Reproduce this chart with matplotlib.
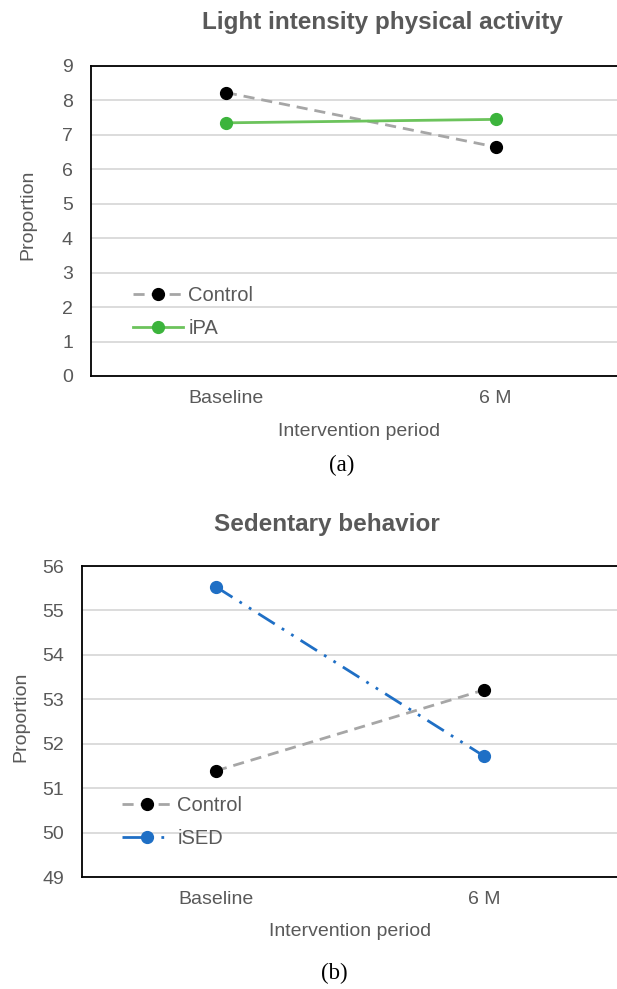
import numpy as np
import matplotlib
matplotlib.use('Agg')
import matplotlib.pyplot as plt

plt.rcParams['font.family'] = ['Liberation Sans', 'DejaVu Sans']

periods = ['Baseline', '6 M']

# (a) light intensity physical activity
lpa_control = [8.23, 6.65]
lpa_ipa = [7.35, 7.45]
lpa_ticks = list(range(0, 10))

# (b) sedentary behaviour
sed_control = [51.39, 53.21]
sed_ised = [55.53, 51.72]
sed_ticks = list(range(49, 57))

W, H = 617, 989
fig = plt.figure(figsize=(W / 100, H / 100), dpi=100)
txt = '#595959'
fs = 14

def px(x, y):
    return x / W, 1 - y / H

def style(ax, ticks, xr):
    ax.set_xlim(-0.5, xr)
    ax.set_ylim(ticks[0], ticks[-1])
    ax.set_yticks(ticks)
    ax.set_xticks(range(len(periods)))
    ax.set_xticklabels(periods)
    ax.grid(axis='y', color='#d9d9d9', lw=1.3)
    ax.set_axisbelow(True)
    for s in ['left', 'top', 'bottom']:
        ax.spines[s].set_linewidth(1.3)
        ax.spines[s].set_color('black')
    ax.spines['right'].set_visible(False)
    ax.tick_params(axis='y', length=0, pad=13, labelsize=fs, labelcolor=txt)
    ax.tick_params(axis='x', length=0, pad=10, labelsize=fs, labelcolor=txt)

x = np.arange(len(periods))

# ---- panel (a)
ax1 = fig.add_axes([91 / W, 1 - 376 / H, 1 - 91 / W, 310 / H])
ax1.plot(x, lpa_control, ls=(0, (4, 2.5)), color='#a6a6a6', lw=2, marker='o',
         ms=8.5, mfc='black', mec='black', label='Control')
ax1.plot(x, lpa_ipa, ls='-', color='#6cc35c', lw=2, marker='o',
         ms=8.5, mfc='#3cb43c', mec='#3cb43c', label='iPA')
style(ax1, lpa_ticks, 1.45)
ax1.set_xlabel('Intervention period', fontsize=fs, color=txt)
ax1.xaxis.label.set_va('center')
ax1.xaxis.set_label_coords((359 - 91) / 526, (376 - 432) / 310)
ax1.set_ylabel('Proportion', fontsize=fs, color=txt)
ax1.yaxis.label.set_va('center')
ax1.yaxis.set_label_coords((28 - 91) / 526, (376 - 215) / 310)
ax1.legend(loc='center left', bbox_to_anchor=((133 - 91) / 526, (376 - 312) / 310),
           frameon=False, fontsize=14.5, handlelength=2.5, handletextpad=0.25,
           labelspacing=0.72, borderpad=0, borderaxespad=0, labelcolor=txt)
fig.text(*px(382, 22), 'Light intensity physical activity', ha='center', va='center',
         fontsize=17.5, fontweight='bold', color=txt)
fig.text(*px(342, 465), '(a)', ha='center', va='center', fontsize=16.5,
         family='Liberation Serif', color='black')

# ---- panel (b)
ax2 = fig.add_axes([82 / W, 1 - 877 / H, 1 - 82 / W, 311 / H])
ax2.plot(x, sed_control, ls=(0, (4, 2.5)), color='#a6a6a6', lw=2, marker='o',
         ms=8.5, mfc='black', mec='black', label='Control')
ax2.plot(x, sed_ised, ls=(0, (7, 3, 1, 3, 1, 3)), color='#1f6fc5', lw=2, marker='o',
         ms=8.5, mfc='#1f6fc5', mec='#1f6fc5', label='iSED')
style(ax2, sed_ticks, 1.496)
ax2.set_xlabel('Intervention period', fontsize=fs, color=txt)
ax2.xaxis.label.set_va('center')
ax2.xaxis.set_label_coords((350 - 82) / 535, (877 - 931) / 311)
ax2.set_ylabel('Proportion', fontsize=fs, color=txt)
ax2.yaxis.label.set_va('center')
ax2.yaxis.set_label_coords((21 - 82) / 535, (877 - 717) / 311)
ax2.legend(loc='center left', bbox_to_anchor=((122 - 82) / 535, (877 - 822) / 311),
           frameon=False, fontsize=14.5, handlelength=2.5, handletextpad=0.25,
           labelspacing=0.72, borderpad=0, borderaxespad=0, labelcolor=txt)
fig.text(*px(327, 524), 'Sedentary behavior', ha='center', va='center',
         fontsize=17.5, fontweight='bold', color=txt)
fig.text(*px(334, 973), '(b)', ha='center', va='center', fontsize=16.5,
         family='Liberation Serif', color='black')

fig.savefig('out.png', dpi=100)
